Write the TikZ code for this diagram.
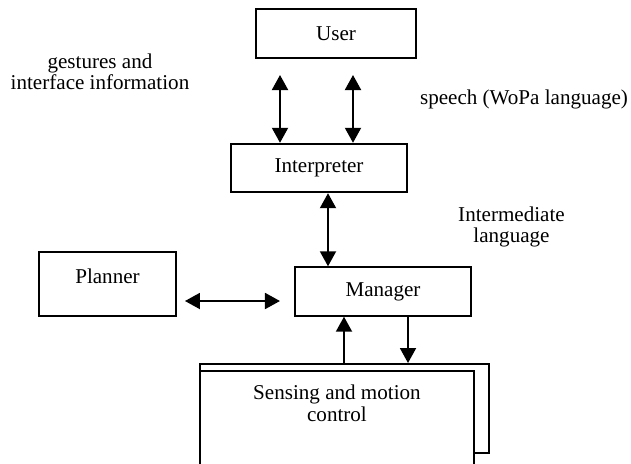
\documentclass[tikz,border=0pt]{standalone}
\usepackage{fontspec}
\setmainfont{Liberation Serif}
\usetikzlibrary{arrows.meta, positioning, calc}

\begin{document}
\begin{tikzpicture}[
      every node/.style={font=\fontsize{12}{12}\selectfont},
      block/.style={draw, rectangle, line width=1.1pt, fill=white, minimum height=0.97cm, align=center},
      remark/.style={align=center},
      line/.style={draw, line width=1.1pt, {Triangle[width=0.32cm,length=0.3cm]}-{Triangle[width=0.32cm,length=0.3cm]}},
      oneway/.style={draw, line width=1.1pt, -{Triangle[width=0.32cm,length=0.3cm]}}
  ]
      \useasboundingbox (0,0) rectangle (12.62,-9.26);
      \clip (0,0) rectangle (12.62,-9.26);

      % Top: User and Interpreter
      \node [block, minimum width=3.2cm] (user) at (6.72, -0.67) {User};
      \node [block, minimum width=3.52cm] (interp) at (6.38, -3.36) {Interpreter};

      % Middle: Planner and Manager
      \node [block, minimum width=2.74cm, minimum height=1.28cm, text height=0.3cm, text depth=0.34cm] (planner) at (2.15, -5.68) {Planner};
      \node [block, minimum width=3.52cm] (mgr) at (7.66, -5.83) {Manager};

      % Bottom: Sensing (two stacked boxes)
      \node [block, anchor=north west, minimum width=5.78cm, minimum height=1.78cm] (senseback) at (3.98, -7.26) {};
      \node [block, anchor=north west, minimum width=5.48cm, minimum height=2.8cm,
             label={[anchor=north, yshift=-0.3cm, inner sep=0pt, align=center]north:Sensing and motion\\control}] (sense) at (3.98, -7.4) {};

      % Labels
      \node [remark] (gest) at (2.0, -1.43) {gestures and\\interface information};
      \node [remark] (speech) at (10.48, -1.98) {speech (WoPa language)};
      \node [remark] (inter) at (10.23, -4.54) {Intermediate\\language};

      % Connections
      \coordinate (u1) at (5.6, -1.5);
      \coordinate (u2) at (7.06, -1.5);
      \path [line] (u1) -- (u1 |- interp.north);
      \path [line] (u2) -- (u2 |- interp.north);
      \path [line] ([xshift=0.18cm]interp.south) -- ([xshift=0.18cm]interp.south |- mgr.north);
      \path [line] ([xshift=0.16cm, yshift=-0.34cm]planner.east) -- ++(1.9, 0);
      \path [oneway] ([xshift=-0.78cm]mgr.south |- senseback.north) -- ([xshift=-0.78cm]mgr.south);
      \path [oneway] ([xshift=0.5cm]mgr.south) -- ([xshift=0.5cm]mgr.south |- senseback.north);
  \end{tikzpicture}
\end{document}
